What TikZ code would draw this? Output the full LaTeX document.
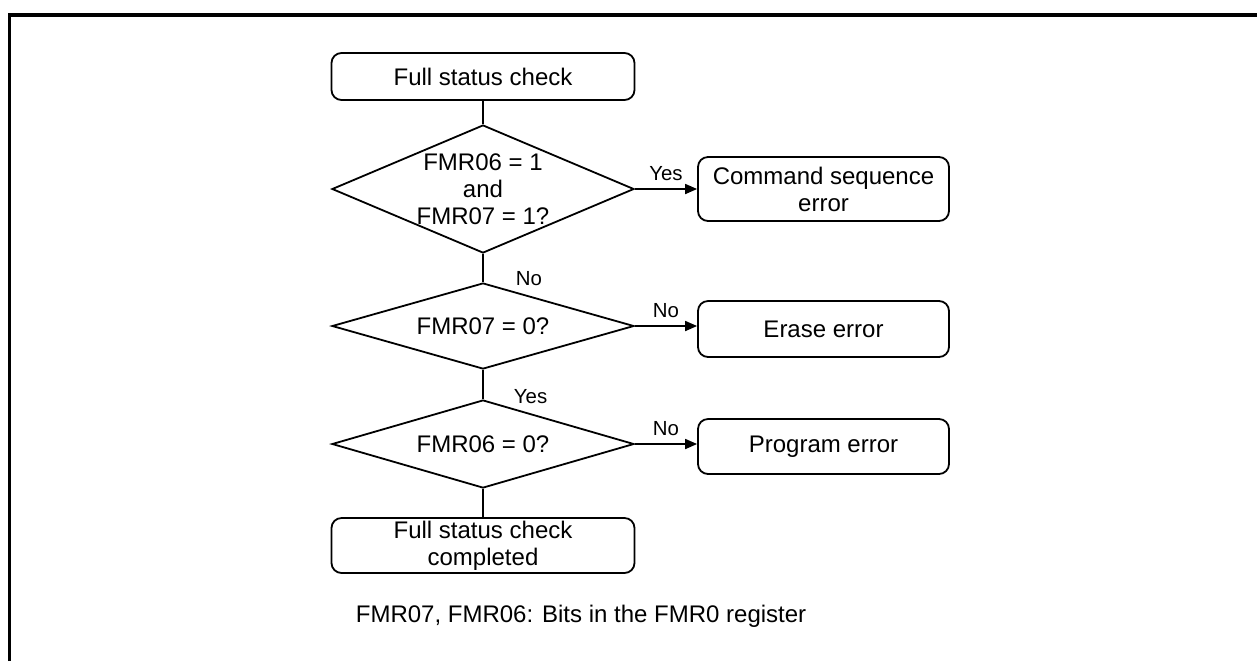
\documentclass[tikz,border=0pt]{standalone}
\usepackage{fontspec}
\setmainfont{Liberation Sans}
\usepackage{tikz}
\usetikzlibrary{shapes.geometric}
\usetikzlibrary{arrows.meta}
\usetikzlibrary{positioning}

\begin{document}
\begin{tikzpicture}[x=0.5pt, y=-0.5pt, line width=0.9pt,
  every node/.style={font=\fontsize{12}{13.5}\selectfont},
  stepbox/.style={draw, rounded corners=5pt, minimum width=151.5pt, align=center, inner sep=0pt},
  errbox/.style={stepbox, minimum width=125.5pt},
  decision/.style={draw, diamond, aspect=2.4, inner sep=0pt, minimum width=151pt, align=center},
  answer/.style={font=\fontsize{10.2}{12}\selectfont, inner sep=0pt},
  flow/.style={-{Triangle[length=6pt, width=5pt]}}]
        % Fix the size of the page
        \useasboundingbox (0,0) rectangle (1257,661);

        % Draw the frame round the chart
        \draw[line width=1.7pt] (9.7,661) -- (9.7,15) -- (1257,15);

        % Draw the main column
        \node[stepbox, minimum height=23.5pt] (start) at (483,76.5) {Full status check};
        \node[decision, minimum height=64pt, inner sep=-4pt, font=\fontsize{12}{13.4}\selectfont] (q1) at (483,189) {FMR06 = 1\\and\\FMR07 = 1?};
        \node[decision, minimum height=43pt] (q2) at (483,326) {FMR07 = 0?};
        \node[decision, minimum height=44pt] (q3) at (483,444) {FMR06 = 0?};
        \node[stepbox, minimum height=27.5pt] (done) at (483,545.5) {Full status check\\completed};

        % Draw the error boxes on the right
        \node[errbox, minimum height=32pt] (cmd) at (823.5,189) {Command sequence\\error};
        \node[errbox, minimum height=28pt] (erase) at (823.5,329) {Erase error};
        \node[errbox, minimum height=27.5pt] (prog) at (823.5,446.5) {Program error};

        % Connect the steps
        \draw (start) -- (q1);
        \draw[flow] (q1) -- (cmd) node[answer, midway, above=3.5pt] {Yes};
        \draw (q1) -- (q2) node[answer, pos=1, anchor=base west, xshift=16pt, yshift=-1.5pt] {No};
        \draw[flow] (q2.east) -- (q2.east -| erase.west) node[answer, midway, above=3.5pt] {No};
        \draw (q2) -- (q3) node[answer, pos=1, anchor=base west, xshift=15pt, yshift=-2pt] {Yes};
        \draw[flow] (q3.east) -- (q3.east -| prog.west) node[answer, midway, above=3.5pt] {No};
        \draw (q3) -- (done);

        \node[anchor=base west, inner sep=0pt] (note) at (355,622) {FMR07, FMR06: Bits in the FMR0 register};
      \end{tikzpicture}
\end{document}
